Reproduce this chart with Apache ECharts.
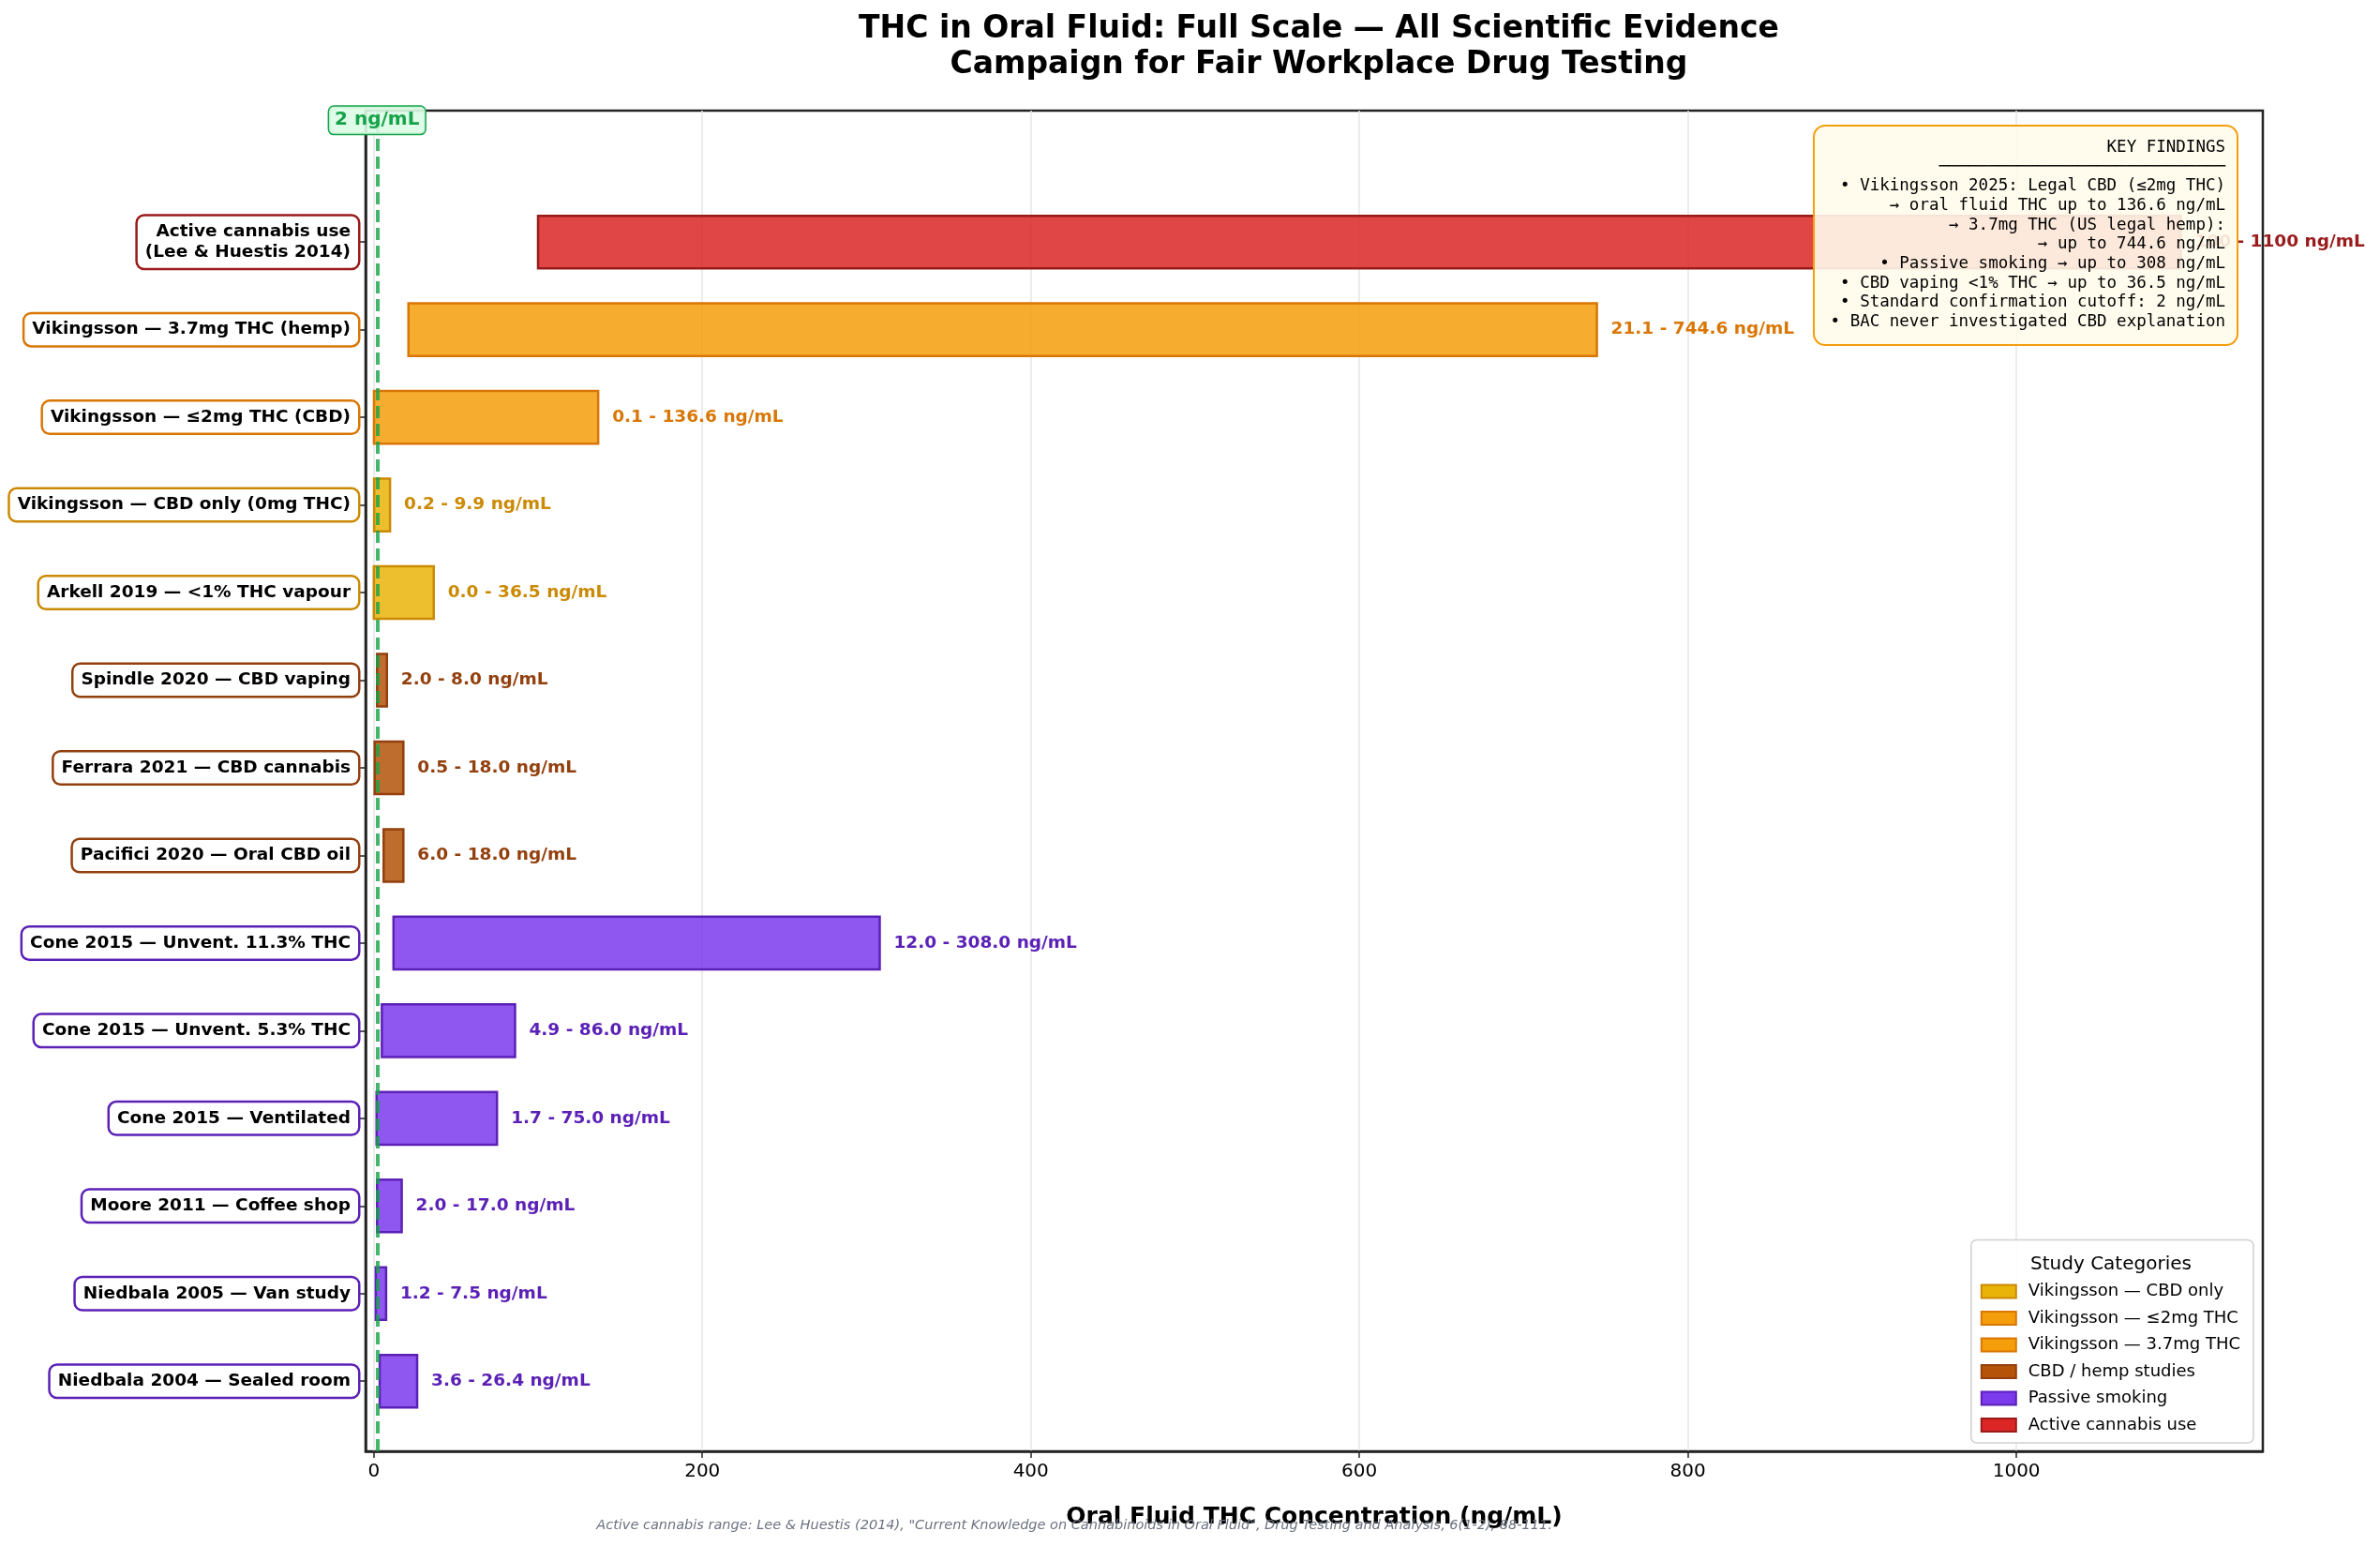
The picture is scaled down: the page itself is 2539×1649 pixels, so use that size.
<!DOCTYPE html>
<html>
<head>
<meta charset="utf-8">
<script src="https://cdn.jsdelivr.net/npm/echarts@6/dist/echarts.min.js"></script>
<style>
  html, body { margin: 0; padding: 0; background: #fff; }
  #chart { width: 2539px; height: 1649px; }
</style>
</head>
<body>
<div id="chart"></div>
<script>
// studies, top to bottom
const categories = [
  'Active cannabis use\n(Lee & Huestis 2014)',
  'Vikingsson — 3.7mg THC (hemp)',
  'Vikingsson — ≤2mg THC (CBD)',
  'Vikingsson — CBD only (0mg THC)',
  'Arkell 2019 — <1% THC vapour',
  'Spindle 2020 — CBD vaping',
  'Ferrara 2021 — CBD cannabis',
  'Pacifici 2020 — Oral CBD oil',
  'Cone 2015 — Unvent. 11.3% THC',
  'Cone 2015 — Unvent. 5.3% THC',
  'Cone 2015 — Ventilated',
  'Moore 2011 — Coffee shop',
  'Niedbala 2005 — Van study',
  'Niedbala 2004 — Sealed room'
];
const lowValues  = [100, 21.1, 0.1, 0.2, 0.0, 2.0, 0.5, 6.0, 12.0, 4.9, 1.7, 2.0, 1.2, 3.6];
const highValues = [1100, 744.6, 136.6, 9.9, 36.5, 8.0, 18.0, 18.0, 308.0, 86.0, 75.0, 17.0, 7.5, 26.4];
const groupOf = ['active', 'v37', 'v2', 'v0', 'v0', 'cbd', 'cbd', 'cbd',
                 'passive', 'passive', 'passive', 'passive', 'passive', 'passive'];

const legendNames = {
  v0: 'Vikingsson — CBD only',
  v2: 'Vikingsson — ≤2mg THC',
  v37: 'Vikingsson — 3.7mg THC',
  cbd: 'CBD / hemp studies',
  passive: 'Passive smoking',
  active: 'Active cannabis use'
};
const legendOrder = ['v0', 'v2', 'v37', 'cbd', 'passive', 'active'];

const cutoff = 2;
const xTicks = [0, 200, 400, 600, 800, 1000];
const yTicks = categories.map((c, i) => i);

const keyFindings = [
  'KEY FINDINGS',
  '─────────────────────────────',
  '• Vikingsson 2025: Legal CBD (≤2mg THC)',
  '→ oral fluid THC up to 136.6 ng/mL',
  '→ 3.7mg THC (US legal hemp):',
  '→ up to 744.6 ng/mL',
  '• Passive smoking → up to 308 ng/mL',
  '• CBD vaping <1% THC → up to 36.5 ng/mL',
  '• Standard confirmation cutoff: 2 ng/mL',
  '• BAC never investigated CBD explanation'
];

const colors = {
  v0:      { solid: '#eab308', fill: 'rgba(234,179,8,0.85)',  edge: '#ca8a04', text: '#ca8a04' },
  v2:      { solid: '#f59e0b', fill: 'rgba(245,158,11,0.85)', edge: '#d97706', text: '#d97706' },
  v37:     { solid: '#f59e0b', fill: 'rgba(245,158,11,0.85)', edge: '#d97706', text: '#d97706' },
  cbd:     { solid: '#b45309', fill: 'rgba(180,83,9,0.85)',   edge: '#92400e', text: '#92400e' },
  passive: { solid: '#7c3aed', fill: 'rgba(124,58,237,0.85)', edge: '#5b21b6', text: '#5b21b6' },
  active:  { solid: '#dc2626', fill: 'rgba(220,38,38,0.85)',  edge: '#991b1b', text: '#991b1b' }
};

const FONT = "'DejaVu Sans', sans-serif";
const n = categories.length;

function rangeText(i) {
  const d = groupOf[i] === 'active' ? 0 : 1;
  return lowValues[i].toFixed(d) + ' - ' + highValues[i].toFixed(d) + ' ng/mL';
}

function makeRender(g) {
  const c = colors[g];
  return function (params, api) {
    const y = api.value(0), lo = api.value(1), hi = api.value(2), idx = api.value(3);
    const p0 = api.coord([lo, y]);
    const p1 = api.coord([hi, y]);
    const h = api.size([0, 0.6])[1];
    return {
      type: 'group',
      children: [
        {
          type: 'rect',
          shape: { x: p0[0], y: p0[1] - h / 2, width: p1[0] - p0[0], height: h },
          style: { fill: c.fill, stroke: c.edge, lineWidth: 2.5 }
        },
        {
          type: 'text',
          x: p1[0] + 15, y: p0[1],
          style: {
            text: rangeText(idx), fill: c.text,
            font: 'bold 18.5px ' + FONT, align: 'left', verticalAlign: 'middle'
          }
        },
        {
          type: 'text',
          x: params.coordSys.x - 8, y: p0[1],
          style: {
            text: categories[idx], fill: '#000',
            font: 'bold 18.5px ' + FONT, align: 'right', verticalAlign: 'middle',
            lineHeight: 22,
            backgroundColor: '#fff', borderColor: c.edge, borderWidth: 2.5,
            borderRadius: 7, padding: [6, 8, 5, 8]
          }
        }
      ]
    };
  };
}

const series = legendOrder.map(g => {
  const data = [];
  categories.forEach((cat, i) => {
    if (groupOf[i] === g) data.push([n - 1 - i, lowValues[i], highValues[i], i]);
  });
  return {
    type: 'custom',
    name: legendNames[g],
    clip: false,
    z: 3,
    itemStyle: { color: colors[g].solid, borderColor: colors[g].edge },
    encode: { x: [1, 2], y: 0 },
    renderItem: makeRender(g),
    data: data
  };
});

// cutoff line + label
series.push({
  type: 'line',
  name: 'cutoff',
  data: [],
  z: 4,
  markLine: {
    silent: true,
    symbol: 'none',
    label: { show: false },
    lineStyle: { color: '#16a34a', opacity: 0.8, width: 4, type: [13, 6] },
    data: [{ xAxis: cutoff }]
  },
  markPoint: {
    silent: true,
    symbol: 'rect',
    symbolSize: 0,
    label: {
      show: true,
      formatter: cutoff + ' ng/mL',
      color: '#16a34a',
      fontWeight: 'bold',
      fontSize: 20,
      fontFamily: FONT,
      backgroundColor: 'rgba(220,252,231,0.9)',
      borderColor: '#16a34a',
      borderWidth: 1.5,
      borderRadius: 5,
      padding: [5, 6, 4, 6],
      position: 'inside'
    },
    data: [{ coord: [cutoff, 14.39] }]
  }
});

const chart = echarts.init(document.getElementById('chart'));
chart.setOption({
  animation: false,
  backgroundColor: '#fff',
  textStyle: { fontFamily: FONT },
  title: {
    text: 'THC in Oral Fluid: Full Scale — All Scientific Evidence\nCampaign for Fair Workplace Drug Testing',
    left: 1402,
    top: 7,
    textAlign: 'center',
    textStyle: { fontSize: 33, fontWeight: 'bold', color: '#000', lineHeight: 38, fontFamily: FONT }
  },
  grid: {
    left: 390, right: 125, top: 118, bottom: 101,
    show: true, borderColor: '#222', borderWidth: 2.5, backgroundColor: 'transparent'
  },
  legend: {
    orient: 'vertical',
    right: 135,
    bottom: 110,
    padding: [46, 14, 10, 10],
    backgroundColor: 'rgba(255,255,255,0.9)',
    borderColor: '#d0d0d0',
    borderWidth: 1.5,
    borderRadius: 6,
    itemWidth: 37,
    itemHeight: 14,
    itemGap: 10.5,
    icon: 'rect',
    textStyle: { fontSize: 18, color: '#000', fontFamily: FONT, padding: [0, 0, 0, 8] },
    data: legendOrder.map(g => ({
      name: legendNames[g],
      itemStyle: { color: colors[g].solid, borderColor: colors[g].edge, borderWidth: 2 }
    }))
  },
  xAxis: {
    type: 'value',
    min: -5,
    max: 1150,
    name: 'Oral Fluid THC Concentration (ng/mL)',
    nameLocation: 'middle',
    nameGap: 58,
    nameTextStyle: { fontSize: 25, fontWeight: 'bold', color: '#000', fontFamily: FONT },
    axisLine: { show: true, onZero: false, lineStyle: { color: '#222', width: 2.5 } },
    axisTick: { show: true, length: 7, lineStyle: { color: '#222', width: 1.5 }, customValues: xTicks },
    axisLabel: { fontSize: 20, color: '#000', margin: 12, customValues: xTicks, formatter: v => String(v) },
    splitLine: { show: true, lineStyle: { color: '#e6e6e6', width: 1.5 } }
  },
  yAxis: {
    type: 'value',
    min: -0.8,
    max: 14.5,
    axisLine: { show: true, onZero: false, lineStyle: { color: '#222', width: 2.5 } },
    axisTick: { show: true, length: 7, lineStyle: { color: '#222', width: 1.5 }, customValues: yTicks },
    axisLabel: { show: false },
    splitLine: { show: false }
  },
  graphic: [
    {
      type: 'rect',
      z: 100,
      shape: { x: 1935, y: 134, width: 452, height: 234, r: 12 },
      style: { fill: 'rgba(255,251,235,0.9)', stroke: '#f59e0b', lineWidth: 2 }
    },
    {
      type: 'text',
      z: 101,
      x: 2374, y: 147,
      style: {
        text: keyFindings.join('\n'),
        font: "17.5px 'DejaVu Sans Mono', monospace",
        fill: '#000', align: 'right', verticalAlign: 'top', lineHeight: 20.7
      }
    },
    {
      type: 'text',
      z: 100,
      x: 2252, y: 1349,
      style: {
        text: 'Study Categories', font: '20px ' + FONT, fill: '#000',
        align: 'center', verticalAlign: 'middle'
      }
    },
    {
      type: 'text',
      z: 100,
      x: 1146, y: 1627,
      style: {
        text: 'Active cannabis range: Lee & Huestis (2014), "Current Knowledge on Cannabinoids in Oral Fluid", Drug Testing and Analysis, 6(1-2), 88-111.',
        font: 'italic 14.5px ' + FONT, fill: '#6b7280',
        align: 'center', verticalAlign: 'middle'
      }
    }
  ],
  series: series
});
</script>
</body>
</html>
